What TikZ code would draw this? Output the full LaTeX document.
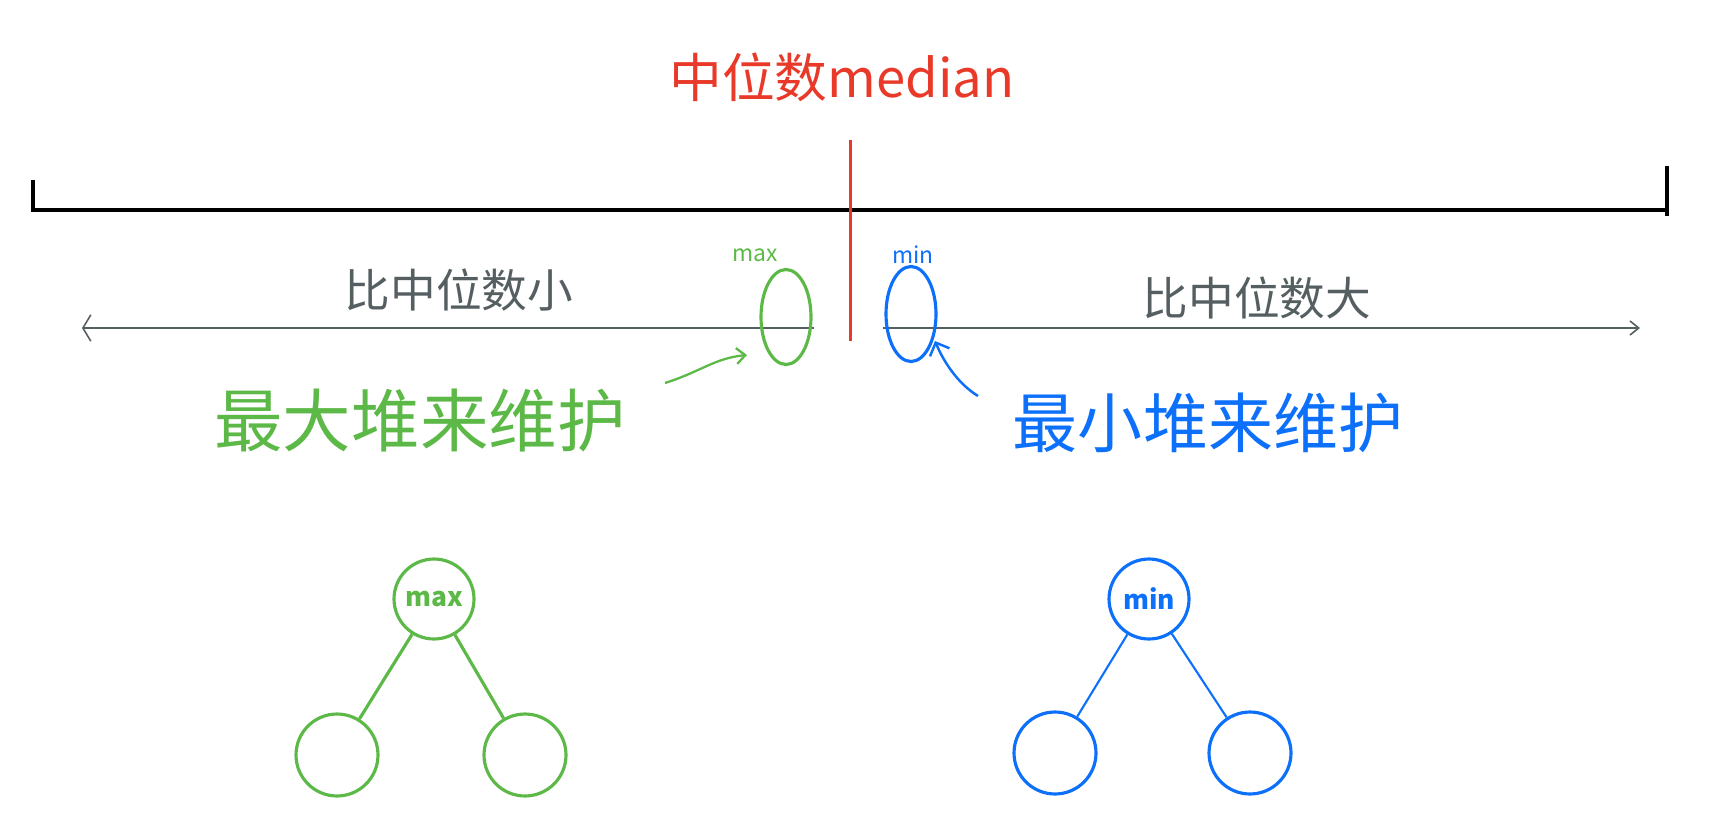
\documentclass[tikz,border=0pt]{standalone}
\usepackage{fontspec}
\newfontfamily\cjk{Noto Sans CJK SC}
\usetikzlibrary{arrows.meta,shapes.geometric}
\definecolor{heapgreen}{RGB}{92,185,71}
\definecolor{heapblue}{RGB}{12,112,250}
\definecolor{medred}{RGB}{232,57,41}
\definecolor{notegray}{RGB}{85,95,97}
\begin{document}
\begin{tikzpicture}[x=0.02cm,y=-0.02cm]
% Frame
\useasboundingbox (0,0) rectangle (1714,838);

\tikzstyle{ring} = [draw, shape=ellipse, minimum width=1.0cm, minimum height=1.9cm, inner sep=0pt, line width=1.8pt]
\tikzstyle{heapnode} = [draw, shape=circle, minimum size=1.6cm, inner sep=0pt, line width=1.8pt, font=\cjk\bfseries\fontsize{15}{17}\selectfont]
\tikzstyle{leaf} = [heapnode, minimum size=1.64cm]
\tikzstyle{hand} = [inner sep=0pt, font=\cjk]

% number line
\coordinate (lineL) at (33,210);
\coordinate (lineR) at (1667,210);
\draw[line width=2.6pt] (lineL) -- (lineR);
\draw[line width=2.2pt] (33,180) -- (33,212);
\draw[line width=2.2pt] (1667,166) -- (1667,216);

% median
\draw[medred, line width=1.7pt] (850,140) -- (850,341);
\node[hand, medred, font=\cjk\fontsize{30}{34}\selectfont] (medtext) at (842,77) {中位数median};

% smaller / bigger side
\draw[notegray, line width=0.9pt, {Straight Barb[length=4.5pt,width=15pt]}-] (82,328) -- (814,328);
\draw[notegray, line width=0.9pt, -{Straight Barb[length=5pt,width=8pt]}] (883,328) -- (1640,328);
\node[hand, notegray, font=\cjk\fontsize{26}{30}\selectfont] (lowtext) at (459,290) {比中位数小};
\node[hand, notegray, font=\cjk\fontsize{26}{30}\selectfont] (hightext) at (1257,298) {比中位数大};

% the two tops
\node at (786,317)[ring, heapgreen](maxring){};
\node at (911,314)[ring, heapblue](minring){};
\node[hand, heapgreen, font=\cjk\fontsize{13}{15}\selectfont] (maxtag) at (755,255) {max};
\node[hand, heapblue, font=\cjk\fontsize{13}{15}\selectfont] (mintag) at (913,255) {min};

\node[hand, heapgreen, font=\cjk\fontsize{39}{44}\selectfont] (maxtext) at (420,421) {最大堆来维护};
\node[hand, heapblue, font=\cjk\fontsize{37}{42}\selectfont] (mintext) at (1208,423) {最小堆来维护};

\coordinate (gtail) at (665,383);
\coordinate (gtip) at (747,355);
\draw[heapgreen, line width=1.3pt, -{Straight Barb[length=5pt,width=9pt]}] (gtail) .. controls (700,372) and (715,358) .. (gtip);
\coordinate (btail) at (978,396);
\coordinate (btip) at (935,341);
\draw[heapblue, line width=1.4pt, -{Straight Barb[length=6pt,width=12pt]}] (btail) .. controls (960,385) and (945,365) .. (btip);

% max heap
\node at (434,599)[heapnode, heapgreen](maxroot){max};
\node at (337,755)[leaf, heapgreen](maxl){};
\node at (525,755)[leaf, heapgreen](maxr){};
\draw[heapgreen, line width=1.8pt] (maxroot) -- (maxl);
\draw[heapgreen, line width=1.8pt] (maxroot) -- (maxr);

% min heap
\node at (1149,599)[heapnode, heapblue](minroot){min};
\node at (1055,753)[leaf, heapblue](minl){};
\node at (1250,753)[leaf, heapblue](minr){};
\draw[heapblue, line width=1.2pt] (minroot) -- (minl);
\draw[heapblue, line width=1.2pt] (minroot) -- (minr);

\end{tikzpicture}
\end{document}
